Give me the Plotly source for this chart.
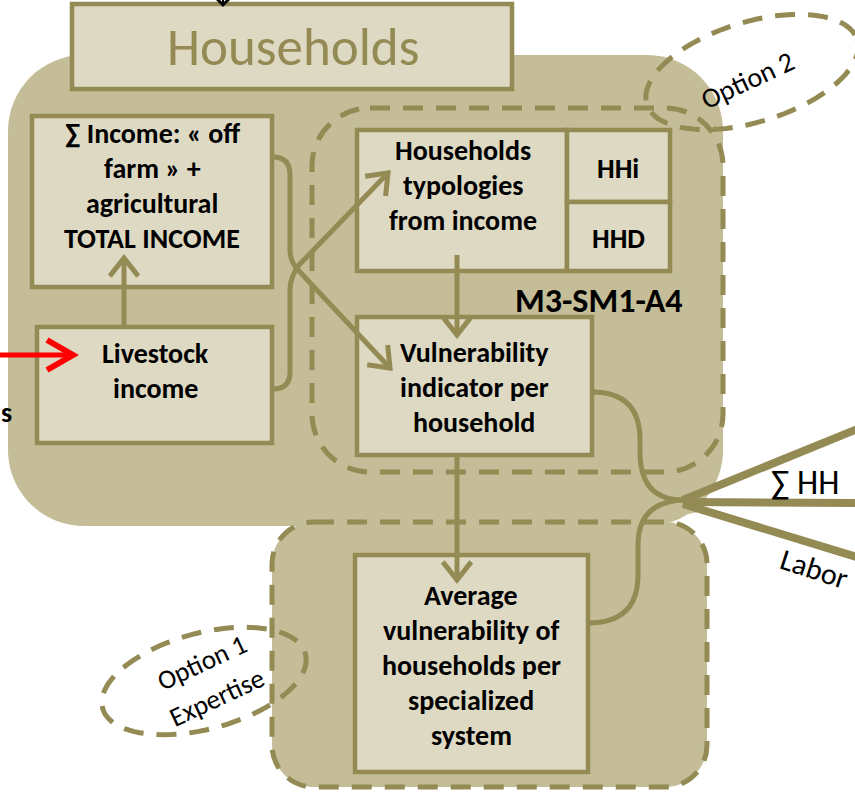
import math
import plotly.graph_objects as go

# ---------------- content (text labels) ----------------
title_label = "Households"
income_lines = ["∑ Income: « off", "farm » +", "agricultural", "TOTAL INCOME"]
livestock_lines = ["Livestock", "income"]
typology_lines = ["Households", "typologies", "from income"]
hh_labels = ["HHi", "HHD"]
vuln_lines = ["Vulnerability", "indicator per", "household"]
avg_lines = ["Average", "vulnerability of", "households per", "specialized", "system"]
module_label = "M3-SM1-A4"
option1_lines = ["Option 1", "Expertise"]
option2_label = "Option 2"
out_labels = ["∑ HH", "Labor"]
cut_label = "s"

# ---------------- style ----------------
W, H = 855, 795
TAN = "#C4BD97"
BOX = "#DDD9C3"
OLIVE = "#948A54"
FONT = "Carlito, Calibri, Lato, sans-serif"
DASH = "20px,13px"
BODY = 28

shapes = []
annotations = []
K = 0.5523


def rrect(x0, y0, x1, y1, r):
    k = r * K
    return (f"M {x0+r} {y0} L {x1-r} {y0} C {x1-r+k} {y0} {x1} {y0+r-k} {x1} {y0+r} "
            f"L {x1} {y1-r} C {x1} {y1-r+k} {x1-r+k} {y1} {x1-r} {y1} "
            f"L {x0+r} {y1} C {x0+r-k} {y1} {x0} {y1-r+k} {x0} {y1-r} "
            f"L {x0} {y0+r} C {x0} {y0+r-k} {x0+r-k} {y0} {x0+r} {y0} Z")


def ellipse(cx, cy, a, b, deg, n=90):
    t = math.radians(deg)
    pts = []
    for i in range(n):
        u = 2 * math.pi * i / n
        x = a * math.cos(u)
        y = b * math.sin(u)
        pts.append((cx + x * math.cos(t) + y * math.sin(t), cy - x * math.sin(t) + y * math.cos(t)))
    return "M " + " L ".join(f"{x:.1f} {y:.1f}" for x, y in pts) + " Z"


def add_path(path, fill=None, color=OLIVE, width=5, dash=None):
    shp = dict(type="path", path=path, xref="x", yref="y",
               line=dict(color=color if width else "rgba(0,0,0,0)", width=width))
    if dash:
        shp["line"]["dash"] = dash
    if fill:
        shp["fillcolor"] = fill
    shapes.append(shp)


def box(x0, y0, x1, y1):
    add_path(f"M {x0} {y0} L {x1} {y0} L {x1} {y1} L {x0} {y1} Z", fill=BOX, width=4.5)


def chevron(tx, ty, dx, dy, length=23, ang=38, color=OLIVE, width=5):
    n = math.hypot(dx, dy)
    ux, uy = dx / n, dy / n
    a = math.radians(ang)
    pts = []
    for s in (1, -1):
        c, si = math.cos(s * a), math.sin(s * a)
        bx, by = -(ux * c - uy * si), -(ux * si + uy * c)
        pts.append((tx + bx * length, ty + by * length))
    add_path(f"M {pts[0][0]:.1f} {pts[0][1]:.1f} L {tx} {ty} L {pts[1][0]:.1f} {pts[1][1]:.1f}",
             color=color, width=width)


def text_lines(lines, cx, y0, step, size=BODY, bold=True, color="black"):
    for i, t in enumerate(lines):
        txt = f"<b>{t}</b>" if bold else t
        annotations.append(dict(x=cx, y=y0 + i * step, text=txt, showarrow=False,
                                xref="x", yref="y", xanchor="center", yanchor="middle",
                                font=dict(family=FONT, size=size, color=color)))


# ---------------- background regions ----------------
add_path(rrect(8, 55, 723, 526, 76), fill=TAN, width=0)
add_path(rrect(272, 522, 707, 787, 42), fill=TAN, width=0)
add_path("M 650 488 L 700 497 L 698 512 L 660 520 Z", fill=TAN, width=0)

# dashed group borders
add_path(rrect(312, 108, 723, 472, 58), dash=DASH)
add_path(rrect(272, 522, 707, 787, 42), dash=DASH)

# top households box
box(72, 4, 512, 89)
add_path("M 223 -10 L 223 4", color="black", width=2)
chevron(223, 5, 0, 1, length=8, ang=45, color="black", width=3)

# option 2 ellipse
add_path(ellipse(752, 72, 110, 50, 17), dash=DASH)

# boxes
box(32, 116, 272, 287)
box(37, 327, 272, 443)
box(357, 130, 567, 271)
box(567, 130, 670, 202)
box(567, 202, 670, 271)
box(357, 317, 592, 455)
box(355, 555, 588, 772)

# connectors
add_path("M 124 327 L 124 259")
chevron(124, 258, 0, -1)
add_path("M 273 157 Q 290 157 290 175 L 290 250 Q 290 262 299 271 L 390 368")
chevron(390, 368, 93, 97)
add_path("M 273 389 Q 290 389 290 372 L 290 290 Q 290 277 299 265 L 388 173")
chevron(388, 173, 89, -92)
add_path("M 457 255 L 457 334")
chevron(457, 335, 0, 1)
add_path("M 457 455 L 457 579")
chevron(457, 580, 0, 1)
add_path("M 592 392 Q 640 392 640 440 L 640 452 Q 640 500 683 500")
add_path("M 588 623 Q 638 623 638 575 L 638 545 Q 638 502 683 500")

# outputs fan
add_path("M 683 500 L 860 428", width=8)
add_path("M 683 502 L 860 503", width=8)
add_path("M 683 504 L 860 558", width=8)

# red input arrow
add_path("M 0 355 L 70 355", color="#FF0000", width=5)
chevron(73, 355, 1, 0, length=30, ang=30, color="#FF0000", width=6)

# option 1 ellipse
add_path(ellipse(204, 681, 105, 48, 15), dash=DASH)

# ---------------- text ----------------
annotations.append(dict(x=293, y=47, text=title_label, showarrow=False, xref="x", yref="y",
                        font=dict(family=FONT, size=53, color=OLIVE)))
text_lines(income_lines, 152, 133, 35)
text_lines(livestock_lines, 155, 353, 35)
text_lines(typology_lines, 463, 150, 35)
text_lines([hh_labels[0]], 618, 168, 35)
text_lines([hh_labels[1]], 618, 238, 35)
text_lines(vuln_lines, 474, 352, 35)
text_lines(avg_lines, 471, 595, 35)
text_lines([module_label], 599, 300, 35, size=34)
annotations.append(dict(x=1, y=412, xshift=-2, text=f"<b>{cut_label}</b>", showarrow=False,
                        xref="x", yref="y", xanchor="left",
                        font=dict(family=FONT, size=BODY, color="black")))

annotations.append(dict(x=747, y=80, text=option2_label, showarrow=False, xref="x", yref="y",
                        textangle=-25, font=dict(family=FONT, size=28, color="black")))
annotations.append(dict(x=201, y=662, text=option1_lines[0], showarrow=False, xref="x", yref="y",
                        textangle=-25, font=dict(family=FONT, size=27, color="black")))
annotations.append(dict(x=216, y=697, text=option1_lines[1], showarrow=False, xref="x", yref="y",
                        textangle=-25, font=dict(family=FONT, size=27, color="black")))
annotations.append(dict(x=769, y=482, text=out_labels[0], showarrow=False, xref="x", yref="y",
                        xanchor="left", font=dict(family=FONT, size=34, color="black")))
annotations.append(dict(x=814, y=568, text=out_labels[1], showarrow=False, xref="x", yref="y",
                        textangle=18, font=dict(family=FONT, size=30, color="black")))

fig = go.Figure()
fig.update_layout(
    width=W, height=H,
    margin=dict(l=0, r=0, t=0, b=0),
    paper_bgcolor="white", plot_bgcolor="white",
    xaxis=dict(range=[0, W], visible=False, fixedrange=True),
    yaxis=dict(range=[H, 0], visible=False, fixedrange=True),
    shapes=shapes, annotations=annotations, showlegend=False,
)
fig.write_html("out.html", config={"displayModeBar": False},
               post_script="document.body.style.margin='0';document.body.style.overflow='hidden';")
